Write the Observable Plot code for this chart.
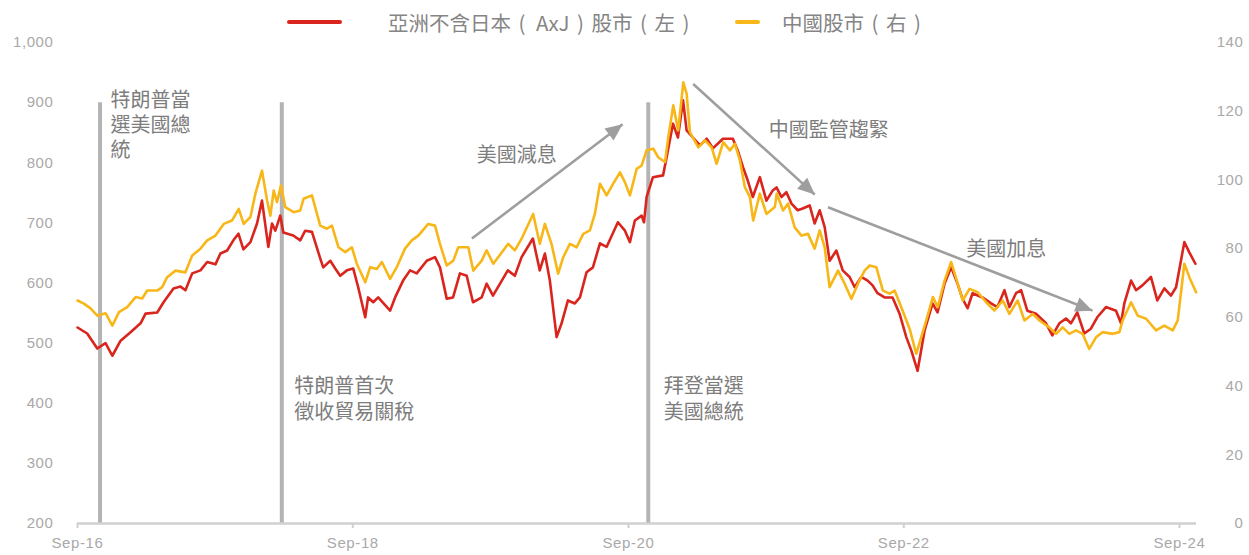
<!DOCTYPE html>
<html><head><meta charset="utf-8">
<script src="https://cdn.jsdelivr.net/npm/d3@7"></script>
<script src="https://cdn.jsdelivr.net/npm/@observablehq/plot@0.6"></script>
<style>
body{margin:0;background:#fff;}
#legend{position:relative;width:1249px;height:34px;font-family:"Noto Sans CJK TC","Noto Sans",sans-serif;font-size:20.5px;color:#858585;}
.sw{position:absolute;height:4px;border-radius:2px;top:20px;}
.lb{position:absolute;top:8px;line-height:28px;white-space:nowrap;}
.pb{display:inline-block;width:22px;text-align:center;}
.lat{padding-left:3px;}
#chart svg g[aria-label$="tick label"] text{letter-spacing:.6px;}
</style></head><body>
<div id="legend"></div>
<div id="chart"></div>
<script>
// ---- series names / colours ----
const seriesNames = ["亞洲不含日本（AxJ）股市（左）", "中國股市（右）"];
const seriesColors = ["#d9251d", "#f8b718"];

// ---- AxJ equities (left axis), decimal years ----
const axjYears = [2016.667,2016.737,2016.810,2016.870,2016.919,2016.979,2017.051,2017.124,2017.160,2017.245,2017.291,2017.363,2017.414,2017.450,2017.499,2017.559,2017.608,2017.668,2017.704,2017.753,2017.798,2017.835,2017.871,2017.922,2017.970,2018.006,2018.052,2018.079,2018.103,2018.139,2018.161,2018.233,2018.284,2018.320,2018.369,2018.429,2018.451,2018.502,2018.538,2018.574,2018.623,2018.669,2018.705,2018.756,2018.777,2018.814,2018.850,2018.937,2018.973,2019.031,2019.082,2019.130,2019.203,2019.263,2019.299,2019.348,2019.394,2019.444,2019.493,2019.539,2019.602,2019.638,2019.684,2019.792,2019.843,2019.892,2019.974,2020.024,2020.061,2020.097,2020.146,2020.182,2020.228,2020.278,2020.315,2020.363,2020.409,2020.460,2020.508,2020.590,2020.641,2020.677,2020.713,2020.762,2020.779,2020.798,2020.844,2020.917,2020.943,2020.989,2021.025,2021.062,2021.088,2021.134,2021.185,2021.234,2021.279,2021.352,2021.424,2021.460,2021.497,2021.533,2021.569,2021.620,2021.668,2021.714,2021.741,2021.777,2021.813,2021.850,2021.895,2021.931,2021.982,2022.018,2022.055,2022.091,2022.127,2022.176,2022.222,2022.272,2022.309,2022.357,2022.403,2022.439,2022.475,2022.526,2022.584,2022.635,2022.684,2022.720,2022.766,2022.817,2022.875,2022.911,2022.962,2023.010,2023.056,2023.092,2023.129,2023.165,2023.237,2023.300,2023.346,2023.397,2023.433,2023.481,2023.518,2023.563,2023.626,2023.699,2023.745,2023.796,2023.844,2023.880,2023.926,2023.977,2024.025,2024.071,2024.134,2024.207,2024.243,2024.267,2024.316,2024.352,2024.398,2024.460,2024.506,2024.557,2024.605,2024.642,2024.702,2024.738,2024.782];
const axjValues = [526,516,491,500,479,504,518,533,549,551,568,591,594,588,616,621,635,631,649,654,671,682,656,668,699,737,660,699,687,712,684,679,671,687,685,641,626,637,624,612,621,624,593,543,576,568,576,554,576,604,621,616,637,643,626,574,576,616,612,568,576,599,579,621,612,643,674,621,649,604,510,533,571,566,576,618,626,666,660,701,687,668,704,712,701,743,776,779,809,865,842,904,854,842,829,840,824,840,840,820,793,770,743,776,737,754,759,743,751,732,721,724,729,699,721,693,637,654,621,610,593,610,604,596,583,576,576,549,510,488,454,521,566,551,599,626,599,574,558,583,576,566,560,588,560,583,588,554,549,533,513,533,541,533,551,516,524,543,560,554,533,566,604,588,596,610,571,591,579,593,668,651,632];

// ---- China equities (right axis), decimal years ----
const chinaYears = [2016.667,2016.713,2016.761,2016.810,2016.870,2016.919,2016.967,2017.027,2017.088,2017.136,2017.172,2017.245,2017.281,2017.317,2017.378,2017.450,2017.499,2017.559,2017.608,2017.668,2017.728,2017.789,2017.837,2017.873,2017.922,2017.958,2018.006,2018.043,2018.067,2018.091,2018.115,2018.144,2018.175,2018.236,2018.284,2018.308,2018.369,2018.429,2018.478,2018.514,2018.562,2018.611,2018.659,2018.695,2018.756,2018.792,2018.840,2018.877,2018.937,2018.985,2019.045,2019.094,2019.142,2019.214,2019.263,2019.299,2019.348,2019.396,2019.432,2019.505,2019.541,2019.602,2019.638,2019.686,2019.795,2019.843,2019.892,2019.976,2020.024,2020.061,2020.109,2020.157,2020.194,2020.242,2020.291,2020.339,2020.387,2020.423,2020.460,2020.508,2020.556,2020.605,2020.641,2020.677,2020.726,2020.762,2020.798,2020.846,2020.882,2020.931,2020.955,2020.991,2021.027,2021.064,2021.088,2021.112,2021.173,2021.221,2021.270,2021.306,2021.354,2021.403,2021.439,2021.475,2021.511,2021.548,2021.572,2021.620,2021.668,2021.729,2021.743,2021.789,2021.825,2021.873,2021.922,2021.970,2022.018,2022.055,2022.091,2022.127,2022.188,2022.236,2022.285,2022.333,2022.381,2022.418,2022.466,2022.514,2022.563,2022.599,2022.647,2022.708,2022.756,2022.792,2022.829,2022.877,2022.913,2022.962,2023.010,2023.058,2023.094,2023.143,2023.203,2023.264,2023.324,2023.385,2023.433,2023.493,2023.542,2023.602,2023.651,2023.723,2023.772,2023.820,2023.868,2023.917,2023.965,2024.013,2024.062,2024.110,2024.183,2024.231,2024.255,2024.316,2024.364,2024.425,2024.497,2024.557,2024.618,2024.654,2024.702,2024.738,2024.787];
const chinaValues = [64.9,64.0,62.6,60.5,61.2,57.6,61.5,63.0,65.9,65.5,67.8,67.8,68.8,71.7,73.6,73.1,78.0,80.0,82.4,83.8,87.2,88.2,91.6,87.2,89.2,96.0,102.7,94.0,89.6,96.9,93.5,98.4,92.1,90.6,91.1,94.5,95.5,86.7,85.8,86.7,80.4,79.0,80.4,75.6,70.2,74.6,74.1,76.1,71.2,74.6,80.0,82.4,83.8,87.2,86.7,81.4,75.1,76.5,80.4,80.4,73.6,76.5,79.5,75.6,81.4,79.5,82.9,90.1,81.4,87.2,81.4,72.7,77.5,81.4,80.4,84.3,85.3,90.1,98.9,95.5,98.9,102.2,99.3,95.5,103.2,104.2,108.6,109.1,106.6,105.2,112.4,121.7,114.4,128.4,125.1,113.9,109.5,111.5,109.5,104.7,111.0,108.6,110.5,105.7,97.9,95.0,88.2,96.0,90.1,92.1,96.0,91.1,93.1,86.2,83.8,84.3,80.0,85.3,80.4,68.8,73.6,69.8,65.4,69.8,73.6,75.1,74.6,67.8,66.9,67.8,63.0,56.7,49.4,54.2,59.1,65.9,63.0,70.7,76.1,69.8,64.9,68.3,67.3,64.4,62.0,64.9,61.0,64.9,59.1,61.0,59.1,57.1,55.2,57.1,55.2,56.2,55.2,50.8,54.2,55.7,55.2,55.7,59.1,64.4,60.5,59.6,56.2,57.6,56.2,59.1,75.6,71.7,67.3];

// ---- axes ----
const xStart = 2016.6667, xEnd = 2024.79;
const xTickDates = ["2016-09-01","2018-09-01","2020-09-01","2022-09-01","2024-09-01"];
const xTickLabels = ["Sep-16","Sep-18","Sep-20","Sep-22","Sep-24"];
const leftTicks = [200,300,400,500,600,700,800,900,1000];
const rightTicks = [0,20,40,60,80,100,120,140];
const leftMin = 200, leftMax = 1000, rightMin = 0, rightMax = 140;

// ---- events (vertical lines) ----
const eventYears = [2016.83, 2018.15, 2020.81];
const eventTop = 900;

// ---- annotations ----
const annoYears = [2016.905, 2018.240, 2020.923, 2019.567, 2021.684, 2023.120];
const annoValues = [865, 409, 409, 815, 856, 658];
const annoTexts = ["特朗普當\n選美國總\n統", "特朗普首次\n徵收貿易關稅", "拜登當選\n美國總統", "美國減息", "中國監管趨緊", "美國加息"];

// ---- arrows ----
const arrowStartYears = [2019.531, 2021.136, 2022.115];
const arrowStartValues = [674, 931, 726];
const arrowEndYears = [2020.624, 2022.019, 2024.037];
const arrowEndValues = [864, 747, 554];

// ---- helpers ----
const yd = y => { const yr = Math.floor(y); const s = Date.UTC(yr,0,1), e = Date.UTC(yr+1,0,1); return new Date(s + (y-yr)*(e-s)); };
const ratio = (rightMax - rightMin) / (leftMax - leftMin);
const toLeft = v => leftMin + (v - rightMin) / ratio;
const fromLeft = d => Math.round((d - leftMin) * ratio + rightMin);

const axj = axjYears.map((y,i) => ({date: yd(y), value: axjValues[i]}));
const china = chinaYears.map((y,i) => ({date: yd(y), value: toLeft(chinaValues[i])}));
const annos = annoYears.map((y,i) => ({date: yd(y), value: annoValues[i], text: annoTexts[i]}));
const arrows = arrowStartYears.map((y,i) => ({x1: yd(y), y1: arrowStartValues[i], x2: yd(arrowEndYears[i]), y2: arrowEndValues[i]}));
const xTicks = xTickDates.map(s => new Date(s + "T00:00:00Z"));
const xLabelMap = new Map(xTicks.map((d,i) => [d.getTime(), xTickLabels[i]]));

const headMarker = (color, context) => {
  const m = d3.create("svg:marker")
    .attr("viewBox", "-18 -8 19 16")
    .attr("markerWidth", 19).attr("markerHeight", 16)
    .attr("markerUnits", "userSpaceOnUse")
    .attr("orient", "auto")
    .attr("overflow", "visible")
    .attr("fill", color).attr("stroke", "none");
  m.append("path").attr("d", "M-17,-7.5L0,0L-17,7.5Z");
  return m.node();
};

// ---- legend ----
const legend = document.getElementById("legend");
const legendLayout = [{sw:287, swW:55, lb:388}, {sw:735, swW:25, lb:782}];
seriesNames.forEach((name, i) => {
  const s = document.createElement("div"); s.className = "sw";
  s.style.left = legendLayout[i].sw + "px"; s.style.width = legendLayout[i].swW + "px"; s.style.background = seriesColors[i];
  const l = document.createElement("div"); l.className = "lb"; l.style.left = legendLayout[i].lb + "px";
  name.split(/([（）])/).filter(p => p).forEach(part => {
    const sp = document.createElement("span");
    if (part === "（" || part === "）") { sp.className = "pb"; sp.textContent = part === "（" ? "(" : ")"; }
    else { sp.textContent = part; if (/^[A-Za-z]/.test(part)) sp.className = "lat"; }
    l.appendChild(sp);
  });
  legend.appendChild(s); legend.appendChild(l);
});

const chart = Plot.plot({
  width: 1249, height: 521,
  marginLeft: 77, marginRight: 53, marginTop: 8, marginBottom: 32,
  style: {fontFamily: "'Liberation Sans', Arial, sans-serif", fontSize: "15px", color: "#a9a9a9", background: "#fff"},
  x: {type: "utc", domain: [yd(xStart), yd(xEnd)]},
  y: {domain: [leftMin, leftMax]},
  marks: [
    Plot.ruleX(eventYears, {x: d => yd(d), y1: leftMin, y2: eventTop, stroke: "#b4b4b4", strokeWidth: 4}),
    Plot.ruleY([leftMin], {stroke: "#d0d0d0", strokeWidth: 2.5}),
    Plot.axisX({ticks: xTicks, tickFormat: d => xLabelMap.get(d.getTime()), tickSize: 5, tickPadding: 9, stroke: "#d0d0d0", strokeWidth: 2, fill: "#a9a9a9", label: null}),
    Plot.axisY({ticks: leftTicks, tickFormat: d3.format(","), anchor: "left", tickSize: 0, tickPadding: 24, fill: "#a9a9a9", label: null}),
    Plot.axisY({ticks: rightTicks.map(toLeft), tickFormat: fromLeft, anchor: "right", tickSize: 0, tickPadding: 47, textAnchor: "end", fill: "#a9a9a9", label: null}),
    Plot.line(axj, {x: "date", y: "value", stroke: seriesColors[0], strokeWidth: 2.6, strokeLinejoin: "round"}),
    Plot.line(china, {x: "date", y: "value", stroke: seriesColors[1], strokeWidth: 2.6, strokeLinejoin: "round"}),
    Plot.link(arrows, {x1: "x1", y1: "y1", x2: "x2", y2: "y2", stroke: "#9e9e9e", strokeWidth: 2.6, markerEnd: headMarker}),
    Plot.text(annos, {x: "date", y: "value", text: "text", textAnchor: "start", lineAnchor: "middle", lineHeight: 1.26, fontSize: 20, fill: "#7d7d7d", fontFamily: "'Noto Sans CJK TC', 'Noto Sans', sans-serif"})
  ]
});
document.getElementById("chart").appendChild(chart);
</script>
</body></html>
